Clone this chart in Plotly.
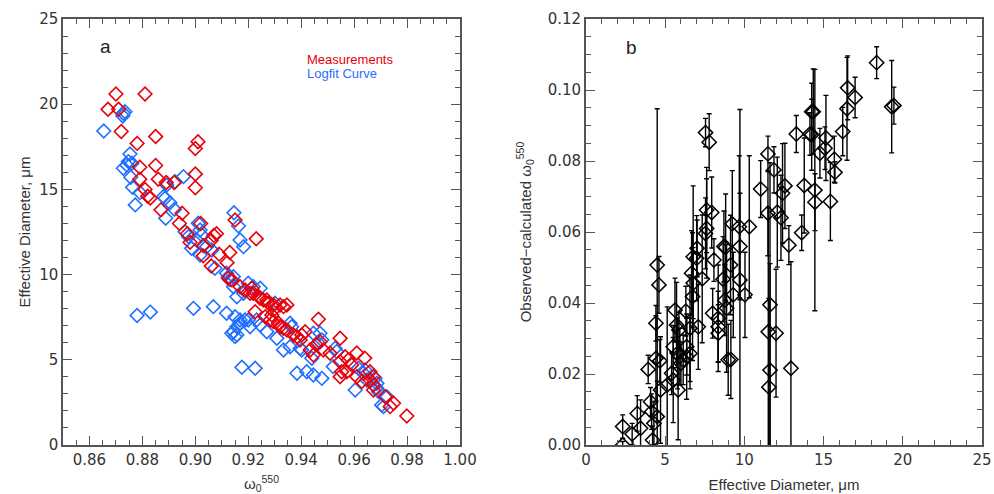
import plotly.graph_objects as go

# ---- Panel a: Measurements (red) ----
meas_x = [0.870, 0.881, 0.867, 0.871, 0.872, 0.885, 0.878, 0.901, 0.900, 0.879, 0.885, 0.879,
          0.886, 0.900, 0.900, 0.889, 0.892, 0.881, 0.882, 0.883, 0.887, 0.895, 0.894, 0.902,
          0.897, 0.898, 0.908, 0.907, 0.915, 0.923, 0.906, 0.903, 0.903, 0.913, 0.909, 0.906,
          0.912, 0.9125, 0.9138, 0.9169, 0.9188, 0.9207, 0.9213, 0.9219, 0.9245, 0.9257, 0.9226,
          0.9270, 0.9276, 0.9295, 0.9289, 0.9264, 0.9283, 0.9295, 0.9314, 0.9320, 0.9333, 0.9346,
          0.9320, 0.9333, 0.9346, 0.9371, 0.9384, 0.9396, 0.9402, 0.9415, 0.9465, 0.9434, 0.9446,
          0.9471, 0.9484, 0.9509, 0.9547, 0.9547, 0.9566, 0.9578, 0.9591, 0.9547, 0.9572, 0.9610,
          0.9553, 0.9629, 0.9660, 0.9673, 0.9660, 0.9673, 0.9673, 0.9717, 0.9736, 0.9749, 0.9799,
          0.9456, 0.9610, 0.9640, 0.9300, 0.9240]
meas_y = [20.6, 20.6, 19.7, 19.7, 18.4, 18.1, 17.7, 17.8, 17.4, 16.3, 16.4, 15.6,
          15.6, 15.9, 15.1, 15.4, 15.4, 15.0, 14.6, 14.5, 13.8, 13.6, 13.0, 13.0,
          12.4, 11.9, 12.4, 12.3, 13.2, 12.1, 12.0, 11.7, 11.1, 11.3, 11.2, 10.5,
          10.7, 9.78, 9.69, 9.29, 9.10, 8.90, 9.20, 8.90, 8.61, 8.51, 7.82,
          8.51, 8.32, 8.22, 7.63, 7.53, 7.34, 7.24, 7.14, 8.22, 8.12, 8.22,
          6.94, 6.85, 6.75, 6.46, 6.36, 6.16, 6.46, 6.65, 7.38, 5.58, 5.28,
          6.06, 5.58, 5.38, 6.26, 4.89, 5.18, 4.99, 4.70, 4.01, 4.30, 4.01,
          4.30, 3.72, 3.81, 3.52, 4.30, 4.01, 3.23, 2.84, 2.25, 2.45, 1.70,
          5.90, 5.40, 5.10, 8.00, 8.70]

# ---- Panel a: Logfit Curve (blue) ----
fit_x = [0.8728, 0.8734, 0.8726, 0.8654, 0.8753, 0.8747, 0.8760, 0.8728, 0.8741, 0.8756,
         0.8763, 0.8791, 0.8773, 0.8879, 0.8886, 0.8904, 0.8921, 0.8888, 0.8955, 0.8892,
         0.8923, 0.9146, 0.9163, 0.8961, 0.8974, 0.9011, 0.9018, 0.9024, 0.9005, 0.8986,
         0.9018, 0.9043, 0.9062, 0.9169, 0.9182, 0.9125, 0.9144, 0.9074, 0.9118, 0.9131,
         0.9144, 0.9200, 0.9219, 0.9245, 0.9157, 0.9182, 0.8993, 0.9068, 0.9118, 0.9150,
         0.9169, 0.9157, 0.9200, 0.9207, 0.9138, 0.9150, 0.9232, 0.9245, 0.9270, 0.9301,
         0.9358, 0.9364, 0.9471, 0.9188, 0.9169, 0.9144, 0.9157, 0.9308, 0.9333, 0.9358,
         0.9396, 0.9402, 0.9440, 0.9478, 0.9528, 0.9534, 0.9176, 0.9226, 0.9384, 0.9421,
         0.9446, 0.9478, 0.9521, 0.9616, 0.9635, 0.9648, 0.9679, 0.9686, 0.9446, 0.9465,
         0.9604, 0.9641, 0.9686, 0.9692, 0.9704, 0.9711, 0.9723, 0.878, 0.883]
fit_y = [19.47, 19.56, 19.31, 18.43, 17.08, 16.63, 16.53, 16.24, 16.43, 15.71,
         15.12, 14.81, 14.09, 14.57, 14.48, 14.22, 13.83, 13.31, 15.75, 15.26,
         15.45, 13.63, 12.85, 12.52, 12.23, 13.01, 12.62, 12.32, 12.03, 11.54,
         11.15, 11.64, 11.44, 12.03, 11.64, 9.88, 9.88, 10.37, 10.08, 9.69,
         9.29, 9.49, 9.29, 9.20, 8.70, 8.90, 8.02, 8.12, 7.73, 7.53,
         7.34, 6.94, 7.34, 6.94, 6.56, 6.36, 7.34, 7.04, 6.65, 8.32,
         7.14, 6.94, 6.56, 7.34, 7.14, 6.65, 6.46, 6.26, 5.58, 5.77,
         5.67, 5.58, 5.09, 6.16, 5.67, 5.48, 4.56, 4.50, 4.21, 4.30,
         4.11, 3.91, 4.60, 4.50, 4.21, 3.81, 3.91, 3.62, 6.56, 5.97,
         3.23, 4.40, 3.33, 3.13, 2.35, 2.25, 2.84, 7.60, 7.80]

# ---- Panel b: observed - calculated ----
diam = [2.32, 2.32, 2.92, 3.24, 3.45, 3.93, 4.08, 4.15, 4.21, 4.29, 4.42, 4.42, 4.50, 4.61, 4.50,
        4.67, 4.71, 5.13, 5.41, 5.51, 5.51, 5.62, 5.72, 5.87, 5.78, 5.93, 5.82, 6.00, 6.14, 6.31,
        6.36, 6.36, 6.57, 6.57, 6.67, 6.77, 6.77, 6.99, 7.02, 7.09, 6.73, 7.34, 7.55, 7.62, 7.62,
        7.94, 8.08, 7.55, 7.78, 8.00, 8.35, 8.35, 8.35, 8.66, 8.71, 8.82, 8.77, 8.88, 8.98, 9.13,
        9.15, 9.24, 9.30, 9.68, 9.72, 9.72, 10.04, 10.31, 11.03, 11.49, 11.49, 11.62, 11.51, 12.00,
        11.62, 11.55, 11.87, 12.08, 12.31, 12.56, 12.41, 12.81, 12.94, 13.28, 13.62, 13.78, 14.14,
        14.25, 14.35, 14.25, 14.45, 14.46, 14.77, 15.09, 15.15, 15.43, 15.68, 15.72, 16.21, 16.48,
        16.52, 16.99, 18.35, 19.30, 19.44]
diff = [0.0052, 0.0000, 0.0031, 0.0089, 0.0047, 0.0213, 0.0122, 0.0094, 0.0014, 0.0061, 0.0343,
        0.0244, 0.0507, 0.0451, 0.0080, 0.0237, 0.0155, 0.0169, 0.0202, 0.0277, 0.0183, 0.0380,
        0.0338, 0.0324, 0.0258, 0.0249, 0.0155, 0.0230, 0.0240, 0.0377, 0.0277, 0.0249, 0.0329,
        0.0258, 0.0484, 0.0456, 0.0530, 0.0526, 0.0554, 0.0333, 0.0418, 0.0468, 0.0596, 0.0610,
        0.0662, 0.0655, 0.0521, 0.0880, 0.0853, 0.0371, 0.0357, 0.0333, 0.0315, 0.0467, 0.0559,
        0.0557, 0.0408, 0.0385, 0.0240, 0.0507, 0.0241, 0.0623, 0.0423, 0.0615, 0.0559, 0.0465,
        0.0423, 0.0615, 0.0721, 0.0820, 0.0653, 0.0395, 0.0319, 0.0315, 0.0211, 0.0163, 0.0775,
        0.0656, 0.0640, 0.0730, 0.0709, 0.0563, 0.0216, 0.0876, 0.0598, 0.0731, 0.0876, 0.0874,
        0.0939, 0.0939, 0.0718, 0.0684, 0.0822, 0.0836, 0.0865, 0.0686, 0.0805, 0.0768, 0.0883,
        0.0947, 0.1006, 0.0979, 0.1077, 0.0953, 0.0956]
diff_err = [0.0033, 0.0010, 0.0030, 0.0050, 0.0080, 0.0040, 0.0040, 0.0050, 0.0040, 0.0060, 0.0050,
            0.0120, 0.0440, 0.0080, 0.0100, 0.0060, 0.0150, 0.0220, 0.0060, 0.0060, 0.0120, 0.0090,
            0.0120, 0.0050, 0.0100, 0.0080, 0.0140, 0.0060, 0.0070, 0.0070, 0.0080, 0.0120, 0.0150,
            0.0100, 0.0120, 0.0100, 0.0200, 0.0120, 0.0080, 0.0120, 0.0180, 0.0180, 0.0100, 0.0140,
            0.0120, 0.0100, 0.0060, 0.0040, 0.0080, 0.0070, 0.0150, 0.0100, 0.0080, 0.0120, 0.0100,
            0.0150, 0.0100, 0.0180, 0.0100, 0.0140, 0.0110, 0.0150, 0.0120, 0.0200, 0.0150, 0.0480,
            0.0120, 0.0200, 0.0080, 0.0050, 0.0120, 0.0400, 0.0350, 0.0180, 0.0300, 0.0250, 0.0065,
            0.0155, 0.0120, 0.0120, 0.0140, 0.0055, 0.0300, 0.0052, 0.0050, 0.0134, 0.0060, 0.0100,
            0.0120, 0.0080, 0.0340, 0.0080, 0.0070, 0.0060, 0.0120, 0.0110, 0.0065, 0.0030, 0.0068,
            0.0145, 0.0090, 0.0057, 0.0045, 0.0130, 0.0052]

RED = "#e8000b"
BLUE = "#1f6fff"
TICKFONT = "DejaVu Sans"
FONT = "Liberation Sans"
AX = "#555555"

fig = go.Figure()
fig.add_trace(go.Scatter(x=fit_x, y=fit_y, mode="markers", xaxis="x", yaxis="y",
                         marker=dict(symbol="diamond-open", size=10.5, color=BLUE, line=dict(width=1.6)),
                         showlegend=False))
fig.add_trace(go.Scatter(x=meas_x, y=meas_y, mode="markers", xaxis="x", yaxis="y",
                         marker=dict(symbol="diamond-open", size=10.5, color=RED, line=dict(width=1.6)),
                         showlegend=False))
fig.add_trace(go.Scatter(x=diam, y=diff, mode="markers", xaxis="x2", yaxis="y2",
                         marker=dict(symbol="diamond-open", size=11, color="black", line=dict(width=1.5)),
                         error_y=dict(type="data", array=diff_err, color="black", thickness=1.4, width=2.5),
                         showlegend=False))

def axis_common(**kw):
    d = dict(showline=True, linecolor=AX, linewidth=1.5, mirror="allticks", ticks="inside",
             ticklen=9, tickwidth=1.2, tickcolor=AX, showgrid=False, zeroline=False,
             automargin=False,
             tickfont=dict(family=TICKFONT, size=15, color="#333333"),
             title_font=dict(family=FONT, size=15, color="#333333"))
    d.update(kw)
    return d

fig.update_layout(
    width=994, height=494,
    margin=dict(l=63, r=12, t=19, b=49),
    plot_bgcolor="white", paper_bgcolor="white",
    font=dict(family=FONT, color="#333333"),
    xaxis=axis_common(domain=[0, 0.432], range=[0.85, 1.00], tick0=0.86, dtick=0.02, tickformat=".2f",
                      minor=dict(tick0=0.85, dtick=0.005, ticks="inside", ticklen=5, tickcolor=AX),
                      title=dict(text="ω<sub>0</sub><sup>550</sup>", standoff=12)),
    yaxis=axis_common(domain=[0, 1], range=[0, 25], tick0=0, dtick=5,
                      minor=dict(tick0=0, dtick=1, ticks="inside", ticklen=5, tickcolor=AX),
                      title=dict(text="Effective Diameter, μm", standoff=5)),
    xaxis2=axis_common(domain=[0.569, 1], anchor="y2", range=[0, 25], tick0=0, dtick=5,
                       minor=dict(tick0=0, dtick=1, ticks="inside", ticklen=5, tickcolor=AX),
                       title=dict(text="Effective Diameter, μm", standoff=12)),
    yaxis2=axis_common(domain=[0, 1], anchor="x2", range=[0, 0.12], tick0=0, dtick=0.02, tickformat=".2f",
                       minor=dict(tick0=0, dtick=0.005, ticks="inside", ticklen=5, tickcolor=AX),
                       title=dict(text="Observed−calculated ω<sub>0</sub><sup>550</sup>", standoff=13)),
    annotations=[
        dict(x=0.866, y=23.4, xref="x", yref="y", text="a", showarrow=False,
             font=dict(family=FONT, size=19, color="#222222")),
        dict(x=2.85, y=0.112, xref="x2", yref="y2", text="b", showarrow=False,
             font=dict(family=FONT, size=19, color="#222222")),
        dict(x=0.9415, y=22.65, xref="x", yref="y", text="Measurements", showarrow=False,
             xanchor="left", font=dict(family=FONT, size=13, color=RED)),
        dict(x=0.9415, y=21.78, xref="x", yref="y", text="Logfit Curve", showarrow=False,
             xanchor="left", font=dict(family=FONT, size=13, color=BLUE)),
    ],
)

# remove the default 8px page margin so the 994x494 figure fills the window exactly
fig.write_html("out.html", config={"displayModeBar": False},
               post_script="document.body.style.margin='0px';document.body.style.overflow='hidden';")
